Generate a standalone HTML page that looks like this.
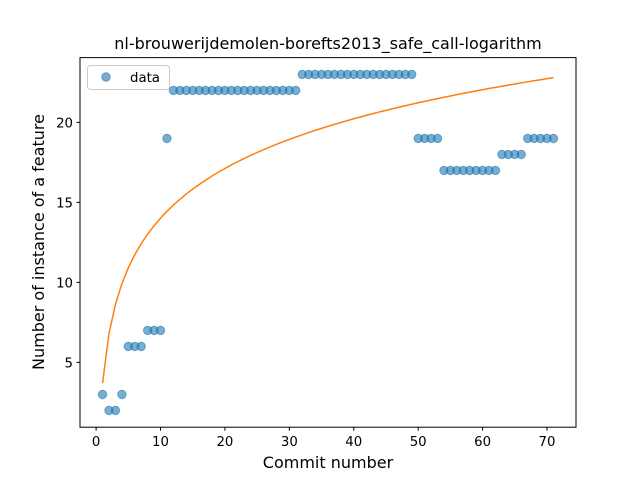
<!DOCTYPE html>
<html><head><meta charset="utf-8"><style>
body{margin:0;background:#fff}
text{font-family:"DejaVu Sans","Liberation Sans",sans-serif;fill:#000}
</style></head><body>
<svg id="chart" width="640" height="480" viewBox="0 0 640 480">
<rect width="640" height="480" fill="#fff"/>
<g id="curve"></g>
<g id="points"></g>
<rect x="80" y="57.6" width="496" height="369.6" fill="none" stroke="#000" stroke-width="1"/>
<g id="xticks"></g><g id="yticks"></g>
<text x="328" y="49" font-size="16" text-anchor="middle">nl-brouwerijdemolen-borefts2013_safe_call-logarithm</text>
<text x="328" y="468" font-size="16" text-anchor="middle">Commit number</text>
<text transform="translate(44,242) rotate(-90)" font-size="16" text-anchor="middle">Number of instance of a feature</text>
<g>
<rect x="87.5" y="65.5" width="82" height="24" rx="3" fill="#fff" fill-opacity="0.8" stroke="#ccc"/>
<circle cx="106" cy="77" r="4.2" fill="#1f77b4" fill-opacity="0.6" stroke="#1f77b4" stroke-opacity="0.6"/>
<text x="130" y="82" font-size="13.3">data</text>
</g>
</svg>
<script>
const commits=[1,2,3,4,5,6,7,8,9,10,11,12,13,14,15,16,17,18,19,20,21,22,23,24,25,26,27,28,29,30,31,32,33,34,35,36,37,38,39,40,41,42,43,44,45,46,47,48,49,50,51,52,53,54,55,56,57,58,59,60,61,62,63,64,65,66,67,68,69,70,71];
const counts=[3,2,2,3,6,6,6,7,7,7,19,22,22,22,22,22,22,22,22,22,22,22,22,22,22,22,22,22,22,22,22,23,23,23,23,23,23,23,23,23,23,23,23,23,23,23,23,23,23,19,19,19,19,17,17,17,17,17,17,17,17,17,18,18,18,18,19,19,19,19,19];
const fitA=3.7, fitB=4.48;
const xTicks=[0,10,20,30,40,50,60,70];
const yTicks=[5,10,15,20];
const NS="http://www.w3.org/2000/svg";
const X=v=>80+(v+2.5)*496/77;
const Y=v=>427.2-(v-0.95)*369.6/23.1;
function mk(t,a){const e=document.createElementNS(NS,t);for(const k in a)e.setAttribute(k,a[k]);return e;}
const pts=document.getElementById('points');
commits.forEach((c,i)=>{const e=mk('circle',{cx:X(c),cy:Y(counts[i]),r:4.2,fill:'#1f77b4','fill-opacity':0.6,stroke:'#1f77b4','stroke-opacity':0.6});


pts.appendChild(e);});
let d='';commits.forEach((c,i)=>{d+=(i?'L':'M')+X(c)+' '+Y(fitA+fitB*Math.log(c));});
const path=mk('path',{d:d,fill:'none',stroke:'#ff7f0e','stroke-width':1.5});


document.getElementById('curve').appendChild(path);
const xt=document.getElementById('xticks');
xTicks.forEach(v=>{const g=mk('g',{});


g.appendChild(mk('line',{x1:X(v),x2:X(v),y1:427.2,y2:430.7,stroke:'#000'}));
const t=mk('text',{x:X(v),y:446,'font-size':13.3,'text-anchor':'middle'});t.textContent=v;g.appendChild(t);xt.appendChild(g);});
const yt=document.getElementById('yticks');
yTicks.forEach(v=>{const g=mk('g',{});


g.appendChild(mk('line',{x1:76.5,x2:80,y1:Y(v),y2:Y(v),stroke:'#000'}));
const t=mk('text',{x:73,y:Y(v)+5,'font-size':13.3,'text-anchor':'end'});t.textContent=v;g.appendChild(t);yt.appendChild(g);});
</script>
</body></html>
